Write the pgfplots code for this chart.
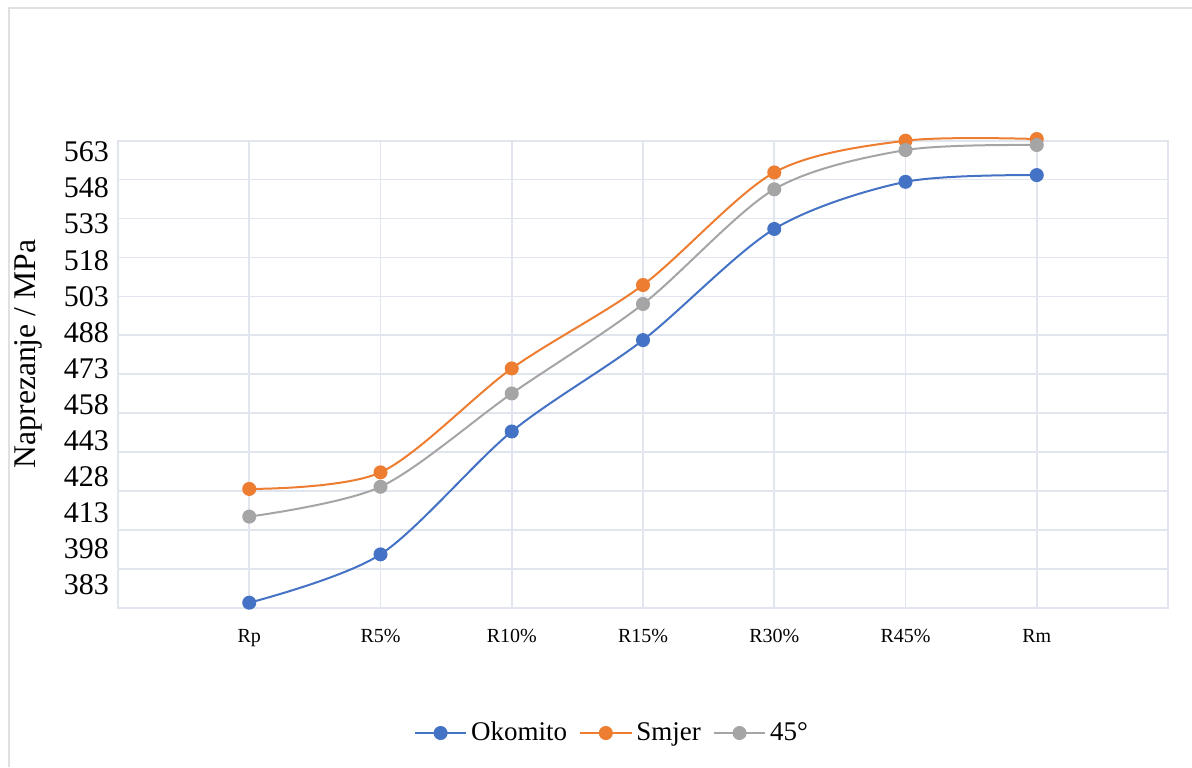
\documentclass[border=0pt]{standalone}
\usepackage{pgfplots}
\pgfplotsset{compat=1.18}
\usepackage{fontspec}
\setmainfont{Liberation Serif}
\definecolor{cblue}{HTML}{4472C4}
\definecolor{corange}{HTML}{ED7D31}
\definecolor{cgray}{HTML}{A5A5A5}
\definecolor{gridc}{HTML}{E1E5ED}
\begin{document}
\begin{tikzpicture}
\useasboundingbox (0,0) rectangle (596pt,383.5pt);
\draw[black!12, line width=0.6pt] (4.5pt,0) -- (4.5pt,379.5pt) -- (596pt,379.5pt);
\begin{axis}[
  at={(59pt,79.5pt)}, anchor=south west,
  scale only axis, width=525pt, height=233.65pt,
  xmin=-1, xmax=7, ymin=373.4, ymax=567.7,
  clip=false,
  xtick={0,...,6},
  xticklabels={Rp,R5\%,R10\%,R15\%,R30\%,R45\%,Rm},
  ytick={383,398,...,563},
  extra y ticks={389.6,405.8,422.0,438.2,454.4,470.6,486.8,502.9,519.1,535.3,551.5},
  extra y tick labels={},
  extra y tick style={grid=major, major tick length=0pt},
  xmajorgrids=true, ymajorgrids=false,
  grid style={gridc, line width=0.8pt},
  axis line style={gridc, line width=0.8pt},
  major tick length=0pt,
  scaled ticks=false,
  /pgf/number format/assume math mode=true,
  yticklabel style={font=\fontsize{15}{18}\selectfont, xshift=-1pt},
  xticklabel style={font=\fontsize{10}{12}\selectfont, yshift=-7pt},
  ylabel={Naprezanje / MPa},
  ylabel style={font=\fontsize{15.8}{19}\selectfont, fill=white, inner sep=2pt,
    at={(axis description cs:-0.0857,0.5435)}, anchor=center},
  legend columns=-1,
  legend style={draw=none, fill=white, font=\fontsize{13.5}{16}\selectfont,
    at={(axis description cs:0.4714,-0.2675)}, anchor=center,
    /tikz/every even column/.append style={column sep=4pt},
    inner sep=1pt},
  legend image code/.code={%
    \draw[mark repeat=2,mark phase=2] plot coordinates {(0cm,0cm) (0.45cm,0cm) (0.9cm,0cm)};},
]
\addplot[cblue, line width=1pt, smooth, mark=*, mark size=3pt, mark options={solid, fill=cblue, draw=cblue}]
  coordinates {(0,375.6) (1,395.7) (2,446.8) (3,484.8) (4,531.0) (5,550.6) (6,553.4)};
\addlegendentry{Okomito}
\addplot[corange, line width=1pt, smooth, mark=*, mark size=3pt, mark options={solid, fill=corange, draw=corange}]
  coordinates {(0,422.9) (1,429.8) (2,473.0) (3,507.7) (4,554.5) (5,567.7) (6,568.4)};
\addlegendentry{Smjer}
\addplot[cgray, line width=1pt, smooth, mark=*, mark size=3pt, mark options={solid, fill=cgray, draw=cgray}]
  coordinates {(0,411.4) (1,423.8) (2,462.6) (3,499.8) (4,547.5) (5,563.8) (6,565.9)};
\addlegendentry{45°}
\end{axis}
\end{tikzpicture}
\end{document}
